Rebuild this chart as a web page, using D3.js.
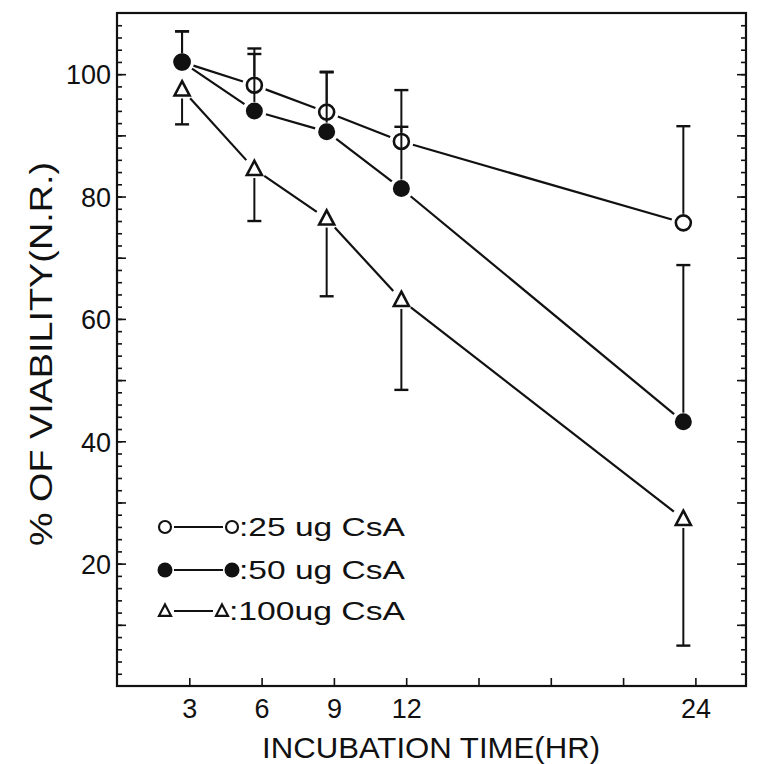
<!DOCTYPE html>
<html>
<head>
<meta charset="utf-8">
<script src="https://cdn.jsdelivr.net/npm/d3@7/dist/d3.min.js"></script>
<style>
  html, body { margin: 0; padding: 0; background: #fff; }
  svg { display: block; }
  text { font-family: "Liberation Sans", Arial, sans-serif; fill: #111; }
</style>
</head>
<body>
<svg id="chart" width="759" height="764"></svg>
<script>
// ---- data ----
const hours = [2.7, 5.7, 8.7, 11.8, 23.5];
const seriesNames = ["25 ug CsA", "50 ug CsA", "100ug CsA"];
const csa25 = [102.0, 98.2, 93.8, 89.0, 75.7];
const sd25 = [5.0, 6.0, 6.6, 8.4, 15.8];
const csa50 = [102.0, 94.0, 90.6, 81.3, 43.2];
const sd50 = [5.0, 9.3, 9.7, 10.1, 25.6];
const csa100 = [97.5, 84.5, 76.4, 63.1, 27.3];
const sd100 = [5.7, 8.5, 12.7, 14.7, 20.7];
const xTicks = [3, 6, 9, 12, 15, 18, 21, 24];
const xTickLabels = ["3", "6", "9", "12", "", "", "", "24"];
const yLabeled = [20, 40, 60, 80, 100];
const yMajor = [10, 20, 30, 40, 50, 60, 70, 80, 90, 100];
const legendLabels = [":25 ug CsA", ":50 ug CsA", ":100ug CsA"];

const svg = d3.select("#chart");
const x = d3.scaleLinear().domain([0, 26.1]).range([117, 746]);
const y = d3.scaleLinear().domain([0, 110]).range([686, 13]);

// frame
svg.append("rect").attr("x", x(0)).attr("y", y(110))
  .attr("width", x(26.1) - x(0)).attr("height", y(0) - y(110))
  .attr("fill", "none").attr("stroke", "#111").attr("stroke-width", 2.2);

// y axis left: minor, major
const yMinorVals = d3.range(2, 110, 2);
svg.append("g").attr("transform", `translate(${x(0)},0)`)
  .call(d3.axisLeft(y).tickValues(yMinorVals).tickSize(-5).tickFormat(""))
  .call(g => g.select(".domain").remove());
svg.append("g").attr("transform", `translate(${x(0)},0)`)
  .call(d3.axisLeft(y).tickValues(yMajor).tickSize(-9).tickFormat(""))
  .call(g => g.select(".domain").remove());
svg.append("g").attr("transform", `translate(${x(0)},0)`)
  .call(d3.axisLeft(y).tickValues(yLabeled).tickSize(0).tickPadding(6).tickFormat(d3.format("d")))
  .call(g => g.select(".domain").remove())
  .call(g => g.selectAll("text").style("font-size", "27px").attr("dy", "0.36em")
      .style("font-family", "\"Liberation Sans\", Arial, sans-serif").attr("fill", "#111"));
// y axis right
svg.append("g").attr("transform", `translate(${x(26.1)},0)`)
  .call(d3.axisRight(y).tickValues(yMinorVals).tickSize(-5).tickFormat(""))
  .call(g => g.select(".domain").remove());
svg.append("g").attr("transform", `translate(${x(26.1)},0)`)
  .call(d3.axisRight(y).tickValues(yMajor).tickSize(-9).tickFormat(""))
  .call(g => g.select(".domain").remove());

// x axis
svg.append("g").attr("transform", `translate(0,${y(0)})`)
  .call(d3.axisBottom(x).tickValues(xTicks).tickSize(-8).tickPadding(8)
    .tickFormat((d, i) => xTickLabels[i]))
  .call(g => g.select(".domain").remove())
  .call(g => g.selectAll("text").style("font-size", "27px").attr("dy", "0.9em")
      .style("font-family", "\"Liberation Sans\", Arial, sans-serif").attr("fill", "#111"));
svg.selectAll(".tick line").attr("stroke", "#111").attr("stroke-width", 1.6);

// axis titles
svg.append("text").attr("x", 431).attr("y", 758).attr("text-anchor", "middle")
  .attr("textLength", 338).attr("lengthAdjust", "spacingAndGlyphs")
  .style("font-size", "30px").text("INCUBATION TIME(HR)");
svg.append("text").attr("transform", "translate(52,354) rotate(-90)")
  .attr("text-anchor", "middle").attr("textLength", 384).attr("lengthAdjust", "spacingAndGlyphs")
  .style("font-size", "31px").text("% OF VIABILITY(N.R.)");

// series
const R = 8;
const series = [
  { vals: csa25, sd: sd25, dir: 1, type: "open" },
  { vals: csa50, sd: sd50, dir: 1, type: "filled" },
  { vals: csa100, sd: sd100, dir: -1, type: "tri" }
];

function markerPath(type, r) {
  if (type === "tri") {
    const h = r * 1.9;
    return `M0,${-h * 0.58}L${r},${h * 0.42}L${-r},${h * 0.42}Z`;
  }
  return d3.symbol().type(d3.symbolCircle).size(Math.PI * r * r)();
}

// connecting lines with gaps at markers
series.forEach(s => {
  const pts = hours.map((h, i) => [x(h), y(s.vals[i])]);
  for (let i = 0; i < pts.length - 1; i++) {
    const [x1, y1] = pts[i], [x2, y2] = pts[i + 1];
    const L = Math.hypot(x2 - x1, y2 - y1), g = R + 4;
    const ux = (x2 - x1) / L, uy = (y2 - y1) / L;
    svg.append("line").attr("x1", x1 + ux * g).attr("y1", y1 + uy * g)
      .attr("x2", x2 - ux * g).attr("y2", y2 - uy * g)
      .attr("stroke", "#111").attr("stroke-width", 2.2);
  }
});

// markers
series.forEach(s => {
  svg.append("g").selectAll("path").data(hours).join("path")
    .attr("transform", (h, i) => `translate(${x(h)},${y(s.vals[i])})`)
    .attr("d", markerPath(s.type, s.type === "filled" ? R + 0.5 : R - 0.5))
    .attr("fill", s.type === "filled" ? "#111" : "#fff")
    .attr("stroke", "#111").attr("stroke-width", s.type === "filled" ? 0 : 2.6);
});

// error bars (drawn from marker edge outwards)
series.forEach(s => {
  hours.forEach((h, i) => {
    const cx = x(h), cy = y(s.vals[i]);
    const ey = y(s.vals[i] + s.dir * s.sd[i]);
    const start = cy - s.dir * (R + 1);
    svg.append("line").attr("x1", cx).attr("x2", cx).attr("y1", start).attr("y2", ey)
      .attr("stroke", "#111").attr("stroke-width", 2);
    svg.append("line").attr("x1", cx - 7).attr("x2", cx + 7).attr("y1", ey).attr("y2", ey)
      .attr("stroke", "#111").attr("stroke-width", 2.4);
  });
});

// legend
const legY = [527, 570, 611];
const legTypes = ["open", "filled", "tri"];
const legX2 = [232, 232, 222];
legendLabels.forEach((lab, i) => {
  const g = svg.append("g");
  const x1 = 165, x2 = legX2[i];
  g.append("line").attr("x1", x1 + 9).attr("x2", x2 - 9).attr("y1", legY[i]).attr("y2", legY[i])
    .attr("stroke", "#111").attr("stroke-width", 2);
  [x1, x2].forEach(xx => {
    g.append("path").attr("transform", `translate(${xx},${legY[i]})`)
      .attr("d", markerPath(legTypes[i], legTypes[i] === "filled" ? 7.5 : 6))
      .attr("fill", legTypes[i] === "filled" ? "#111" : "#fff")
      .attr("stroke", "#111").attr("stroke-width", legTypes[i] === "filled" ? 0 : 2.2);
  });
  g.append("text").attr("x", x2 + 7).attr("y", legY[i] + 9)
    .attr("textLength", 405 - (x2 + 7)).attr("lengthAdjust", "spacingAndGlyphs")
    .style("font-size", "25px").text(lab);
});
</script>
</body>
</html>
